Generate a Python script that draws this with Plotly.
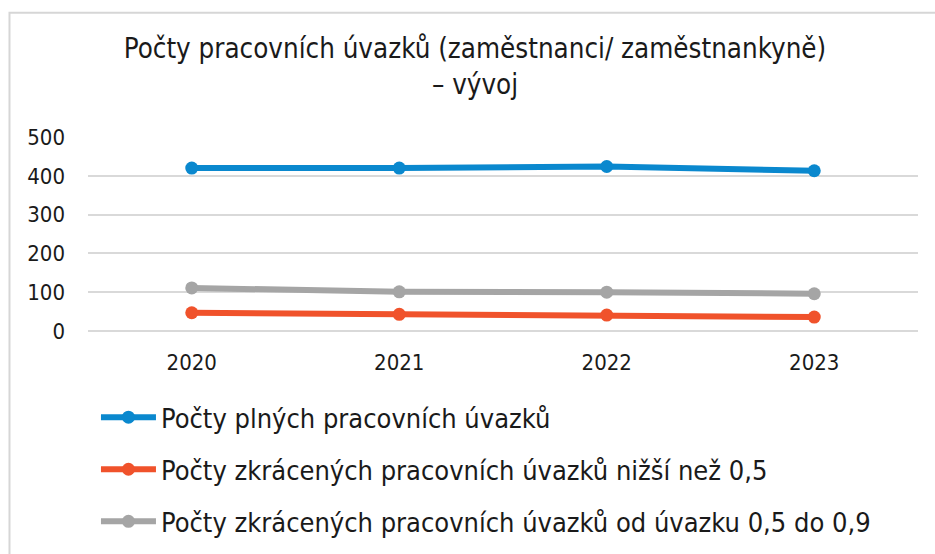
import plotly.graph_objects as go

years = ["2020", "2021", "2022", "2023"]
plne = [420, 420, 424, 413]
zkracene_pod_05 = [47, 43, 41, 36]
zkracene_05_09 = [111, 101, 100, 96]
series_names = [
    "Počty plných pracovních úvazků",
    "Počty zkrácených pracovních úvazků nižší než 0,5",
    "Počty zkrácených pracovních úvazků od úvazku 0,5 do 0,9",
]
colors = ["#0A88CE", "#F0522B", "#A5A5A5"]
title_text = "Počty pracovních úvazků (zaměstnanci/ zaměstnankyně)<br>– vývoj"

FONT = "DejaVu Sans Condensed, Liberation Sans Narrow, sans-serif"

fig = go.Figure()
for i, (vals, name) in enumerate(zip([plne, zkracene_pod_05, zkracene_05_09], series_names)):
    fig.add_trace(go.Scatter(
        x=years, y=vals, name=name, mode="lines+markers",
        line=dict(color=colors[i], width=6),
        marker=dict(color=colors[i], size=13),
        legendgroup=f"g{i}",
    ))

fig.update_layout(
    width=935, height=554,
    margin=dict(l=88, r=17, t=137, b=223, autoexpand=False),
    paper_bgcolor="white", plot_bgcolor="white",
    font=dict(family=FONT, color="#1a1a1a"),
    title=dict(text=title_text, x=0.508, xanchor="center", y=0.895, yanchor="top",
               yref="container", font=dict(size=27.5, family=FONT, color="#1a1a1a")),
    showlegend=True,
    legend=dict(orientation="v", x=0.0096, xanchor="left", y=-0.32, yanchor="top",
                font=dict(size=27, family=FONT, color="#1a1a1a"),
                tracegroupgap=14, itemwidth=55, bgcolor="rgba(0,0,0,0)"),
    shapes=[dict(type="rect", xref="paper", yref="paper",
                 x0=-0.0946, x1=1.1, y0=-1.3, y1=1.64,
                 line=dict(color="#D6D6D6", width=2), fillcolor="rgba(0,0,0,0)",
                 layer="below")],
)
fig.update_xaxes(type="category", range=[-0.5, 3.5], showgrid=False, showline=False,
                 zeroline=False, ticks="", tickfont=dict(size=22, family=FONT),
                 ticklabelstandoff=16)
fig.update_yaxes(range=[0, 500], dtick=100, showgrid=True, gridcolor="#D9D9D9",
                 gridwidth=1.5, zeroline=True, zerolinecolor="#D9D9D9", zerolinewidth=1.5,
                 showline=False, ticks="", tickfont=dict(size=22, family=FONT),
                 ticklabelstandoff=22)

fig.write_html("out.html", config={"displayModeBar": False},
               post_script="document.body.style.margin='0';")
